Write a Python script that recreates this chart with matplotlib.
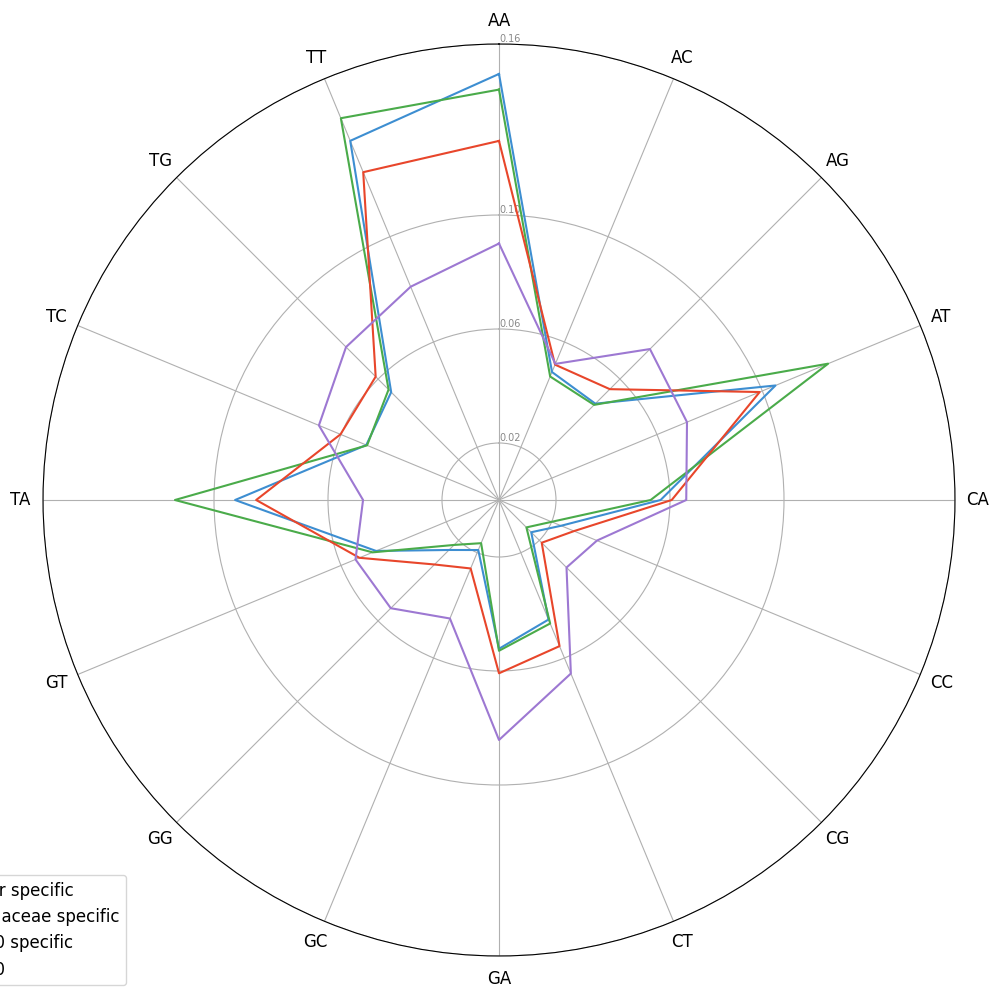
import numpy as np
import matplotlib
matplotlib.use("Agg")
import matplotlib.pyplot as plt

plt.rcParams['font.size'] = 12

# dinucleotide frequencies
categories = ['AA', 'AC', 'AG', 'AT', 'CA', 'CC', 'CG', 'CT',
              'GA', 'GC', 'GG', 'GT', 'TA', 'TC', 'TG', 'TT']

enterobacter = [0.1495, 0.0486, 0.0478, 0.105, 0.0567, 0.0236, 0.0160, 0.0454,
                0.0522, 0.0190, 0.0248, 0.0467, 0.0926, 0.0504, 0.0535, 0.1364]
pectobacteriaceae = [0.144, 0.0469, 0.0472, 0.125, 0.0532, 0.0200, 0.0136, 0.0469,
                     0.0529, 0.0164, 0.0223, 0.0480, 0.1137, 0.0501, 0.0548, 0.145]
st410_specific = [0.126, 0.0514, 0.0550, 0.099, 0.0606, 0.0285, 0.0212, 0.0555,
                  0.0608, 0.0260, 0.0320, 0.0530, 0.0852, 0.0602, 0.0612, 0.1245]
st410 = [0.090, 0.0517, 0.0749, 0.0714, 0.0657, 0.0372, 0.0335, 0.0659,
         0.0842, 0.0450, 0.0537, 0.0545, 0.0477, 0.0684, 0.0759, 0.081]

series = [
    ("Enterobacter specific", enterobacter, '#3d8ed1'),
    ("Pectobacteriaceae specific", pectobacteriaceae, '#4aab4a'),
    ("E. coli ST410 specific", st410_specific, '#e8462b'),
    ("E. coli ST410", st410, '#9d78d2'),
]

rticks = [0.02, 0.06, 0.1, 0.16]
rtick_labels = ["0.02", "0.06", "0.10", "0.16"]

angles = np.linspace(0, 2 * np.pi, len(categories), endpoint=False)
angles_closed = np.concatenate([angles, angles[:1]])

fig = plt.figure(figsize=(9.94, 10.07), dpi=100)
ax = fig.add_axes([43 / 994, 51 / 1007, 912 / 994, 912 / 1007], projection='polar')
ax.set_theta_offset(np.pi / 2)
ax.set_theta_direction(-1)

for name, vals, col in series:
    v = np.concatenate([vals, vals[:1]])
    ax.plot(angles_closed, v, color=col, linewidth=1.5, label=name)

ax.set_xticks(angles)
ax.set_xticklabels(categories)
ax.tick_params(axis='x', pad=6)
ax.set_ylim(0, 0.16)
ax.set_yticks(rticks)
ax.set_yticklabels(rtick_labels, fontsize=7, color='#888888')
ax.set_rlabel_position(0)

leg = ax.legend(loc='upper right', bbox_to_anchor=(126 / 994, 1 - 875 / 1007),
                bbox_transform=fig.transFigure, borderaxespad=0)

fig.savefig('out.png', dpi=100)
